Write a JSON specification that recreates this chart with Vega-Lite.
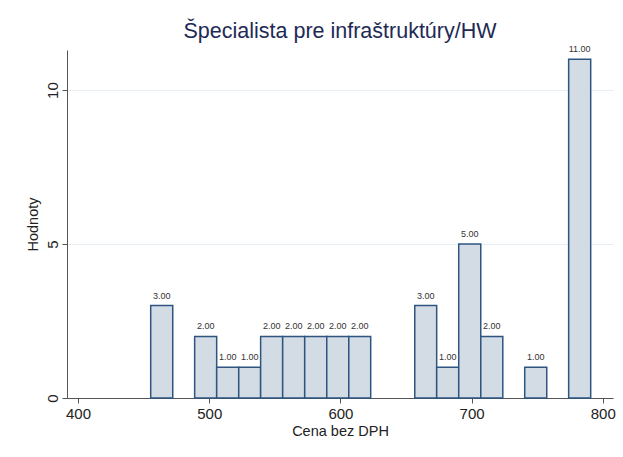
{
  "$schema": "https://vega.github.io/schema/vega-lite/v6.json",
  "autosize": "none",
  "width": 546,
  "height": 348,
  "padding": {"left": 67, "top": 50, "right": 10, "bottom": 59},
  "background": "white",
  "config": {
    "view": {"stroke": null},
    "font": "Liberation Sans"
  },
  "title": {
    "text": "Špecialista pre infraštruktúry/HW",
    "fontSize": 21.5,
    "fontWeight": "normal",
    "color": "#1e2a55",
    "anchor": "middle",
    "frame": "group",
    "offset": 3
  },
  "data": {
    "values": [
      {"start": 455.4, "end": 472.2, "count": 3},
      {"start": 488.9, "end": 505.7, "count": 2},
      {"start": 505.7, "end": 522.5, "count": 1},
      {"start": 522.5, "end": 539.2, "count": 1},
      {"start": 539.2, "end": 556.0, "count": 2},
      {"start": 556.0, "end": 572.8, "count": 2},
      {"start": 572.8, "end": 589.6, "count": 2},
      {"start": 589.6, "end": 606.4, "count": 2},
      {"start": 606.4, "end": 623.1, "count": 2},
      {"start": 656.7, "end": 673.4, "count": 3},
      {"start": 673.4, "end": 690.2, "count": 1},
      {"start": 690.2, "end": 707.0, "count": 5},
      {"start": 707.0, "end": 723.8, "count": 2},
      {"start": 740.5, "end": 757.3, "count": 1},
      {"start": 774.0, "end": 790.8, "count": 11}
    ]
  },
  "encoding": {
    "x": {
      "field": "start",
      "type": "quantitative",
      "scale": {"domain": [391.6, 807.8], "nice": false, "zero": false},
      "axis": {
        "title": "Cena bez DPH",
        "values": [400, 500, 600, 700, 800],
        "grid": false,
        "domainColor": "#555555",
        "tickColor": "#555555",
        "tickSize": 5,
        "labelFontSize": 15,
        "labelColor": "#222222",
        "labelPadding": 3,
        "titleFontSize": 14.5,
        "titleFontWeight": "normal",
        "titleColor": "#222222",
        "titlePadding": 3
      }
    }
  },
  "layer": [
    {
      "mark": {"type": "bar", "fill": "#d3dbe4", "stroke": "#2d5580", "strokeWidth": 1.5},
      "encoding": {
        "x2": {"field": "end"},
        "y": {
          "field": "count",
          "type": "quantitative",
          "scale": {"domain": [0, 11.3], "nice": false},
          "axis": {
            "title": "Hodnoty",
            "values": [0, 5, 10],
            "grid": true,
            "gridColor": "#e6eef4",
            "gridWidth": 1,
            "domainColor": "#555555",
            "tickColor": "#555555",
            "tickSize": 5,
            "labelAngle": -90,
            "labelAlign": "center",
            "labelBaseline": "bottom",
            "labelFontSize": 15,
            "labelColor": "#222222",
            "labelPadding": 2,
            "titleFontSize": 14.5,
            "titleFontWeight": "normal",
            "titleColor": "#222222",
            "titlePadding": 5
          }
        },
        "y2": {"datum": 0}
      }
    },
    {
      "mark": {"type": "text", "fontSize": 9, "color": "#333333", "dy": -7, "baseline": "alphabetic"},
      "transform": [{"calculate": "(datum.start + datum.end) / 2", "as": "mid"}],
      "encoding": {
        "x": {"field": "mid", "type": "quantitative"},
        "y": {"field": "count", "type": "quantitative"},
        "text": {"field": "count", "type": "quantitative", "format": ".2f"}
      }
    }
  ]
}
